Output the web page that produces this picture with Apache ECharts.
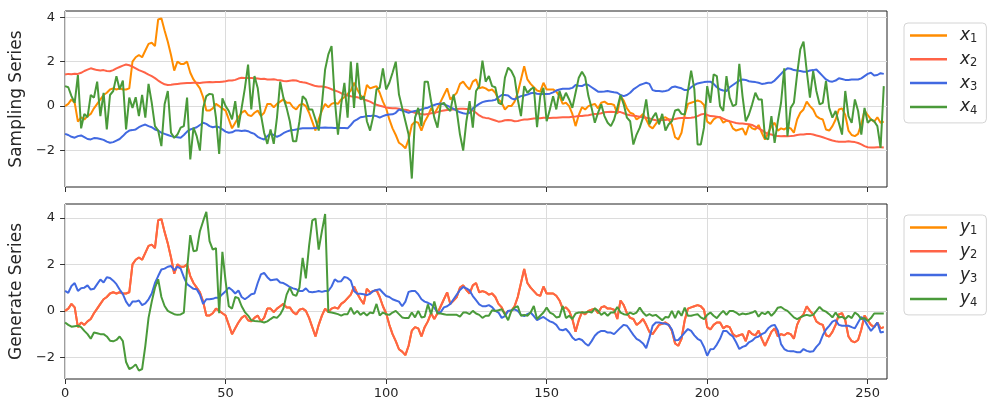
<!DOCTYPE html>
<html>
<head>
<meta charset="utf-8">
<title>Sampling / Generate Series</title>
<script src="https://cdn.jsdelivr.net/npm/echarts@6/dist/echarts.min.js"></script>
<style>
  html, body { margin: 0; padding: 0; background: #fff; }
  #chart { width: 997px; height: 414px; }
</style>
</head>
<body>
<div id="chart"></div>
<script>
// tick positions
const xTicks = [0, 50, 100, 150, 200, 250]
const yTicks = [-2, 0, 2, 4]

// top panel: sampling series x1..x4 (index 0..255)
const sampled1 = [
  0.0, 0.1, 0.3, 0.15, -0.7, -0.5, -0.6, -0.45, -0.35, -0.1,
  0.1, 0.3, 0.5, 0.6, 0.75, 0.8, 0.75, 0.8, 0.75, 0.75,
  0.8, 2.0, 2.2, 2.3, 2.2, 2.5, 2.8, 2.85, 2.7, 3.9,
  3.95, 3.4, 2.9, 2.3, 1.6, 2.0, 1.9, 1.9, 2.0, 1.5,
  1.2, 1.0, 0.8, 0.4, -0.2, -0.2, -0.1, 0.1, 0.0, -0.1,
  -0.2, -0.6, -1.0, -0.75, -0.5, -0.3, -0.2, -0.4, -0.45, -0.3,
  -0.2, -0.45, -0.3, 0.1, 0.1, -0.05, 0.1, 0.2, 0.3, 0.15,
  0.15, -0.05, -0.15, 0.05, 0.1, 0.0, -0.3, -0.7, -1.1, -0.6,
  -0.2, 0.1, -0.05, 0.1, 0.15, 0.1, 0.3, 0.4, 0.55, 0.7,
  1.05, 0.75, 0.5, 0.3, 0.95, 0.8, 0.85, 0.9, 0.6, 0.2,
  -0.1, -0.6, -1.0, -1.3, -1.65, -1.75, -1.9, -1.5, -0.85, -0.7,
  -0.75, -1.1, -0.7, -0.45, -0.1, -0.35, -0.1, 0.2, 0.5, 0.8,
  0.3, 0.45, 0.6, 1.0, 1.1, 0.9, 0.75, 1.1, 1.2, 0.8,
  0.85, 0.8, 0.7, 0.75, 0.6, 0.3, 0.15, -0.15, 0.0, 0.0,
  0.2, 0.6, 1.2, 1.8, 1.2, 1.0, 0.85, 0.7, 0.65, 1.05,
  0.75, 0.75, 0.75, 0.65, 0.45, 0.1, 0.15, 0.0, -0.35, -0.9,
  -0.4, -0.05, -0.15, 0.0, 0.05, 0.1, -0.1, 0.15, 0.2, 0.1,
  0.1, 0.05, -0.35, 0.45, 0.25, -0.1, -0.3, -0.35, -0.6, -0.5,
  -0.35, -0.6, -0.9, -1.0, -0.8, -0.6, -0.55, -0.5, -0.6, -0.85,
  -1.4, -1.5, -1.2, -0.4, 0.1, 0.15, 0.2, 0.25, 0.2, 0.05,
  -0.7, -0.8, -0.6, -0.5, -0.5, -0.75, -0.65, -0.7, -1.0, -1.1,
  -1.05, -1.0, -1.3, -0.85, -1.0, -1.05, -0.85, -1.2, -1.5, -1.2,
  -0.9, -0.75, -1.1, -1.0, -1.05, -0.95, -1.0, -1.2, -0.6, -0.3,
  -0.15, 0.2, 0.0, -0.15, -0.45, -0.55, -0.6, -1.05, -1.1, -0.9,
  -0.6, -0.15, -0.1, -0.4, -1.1, -1.3, -1.35, -1.25, -0.8, -0.2,
  -0.4, -0.6, -0.7, -0.5, -0.75, -0.7
]
const sampled2 = [
  1.42, 1.45, 1.43, 1.46, 1.45, 1.5, 1.58, 1.64, 1.7, 1.66,
  1.62, 1.6, 1.62, 1.58, 1.57, 1.62, 1.7, 1.76, 1.82, 1.87,
  1.84, 1.78, 1.7, 1.62, 1.56, 1.5, 1.42, 1.35, 1.26, 1.15,
  1.06, 0.98, 0.95, 0.96, 0.98, 1.0, 1.02, 1.03, 1.04, 1.04,
  1.05, 1.05, 1.04, 1.06, 1.07, 1.08, 1.07, 1.08, 1.08, 1.1,
  1.12, 1.15, 1.15, 1.18, 1.24, 1.28, 1.27, 1.26, 1.26, 1.25,
  1.24, 1.22, 1.23, 1.2, 1.2, 1.21, 1.18, 1.16, 1.13, 1.12,
  1.14, 1.16, 1.15, 1.1, 1.07, 1.05, 1.0, 0.95, 0.9, 0.88,
  0.88, 0.86, 0.82, 0.76, 0.7, 0.65, 0.58, 0.52, 0.48, 0.44,
  0.42, 0.4, 0.36, 0.3, 0.25, 0.2, 0.12, 0.06, 0.02, -0.02,
  -0.06, -0.08, -0.1, -0.1, -0.12, -0.15, -0.16, -0.2, -0.26, -0.3,
  -0.33, -0.36, -0.38, -0.36, -0.32, -0.3, -0.27, -0.22, -0.2, -0.18,
  -0.15, -0.15, -0.13, -0.12, -0.12, -0.13, -0.15, -0.2, -0.3, -0.42,
  -0.5, -0.53, -0.55, -0.6, -0.65, -0.7, -0.68, -0.64, -0.62, -0.64,
  -0.68, -0.67, -0.63, -0.6, -0.6, -0.58, -0.56, -0.55, -0.55, -0.52,
  -0.52, -0.53, -0.52, -0.52, -0.51, -0.5, -0.5, -0.5, -0.48, -0.47,
  -0.45, -0.44, -0.42, -0.41, -0.38, -0.36, -0.35, -0.32, -0.28, -0.26,
  -0.25, -0.26, -0.25, -0.27, -0.32, -0.38, -0.41, -0.43, -0.45, -0.48,
  -0.5, -0.52, -0.55, -0.6, -0.64, -0.65, -0.63, -0.62, -0.6, -0.6,
  -0.58, -0.55, -0.53, -0.52, -0.53, -0.52, -0.5, -0.45, -0.38, -0.35,
  -0.4, -0.45, -0.46, -0.48, -0.5, -0.56, -0.63, -0.68, -0.72, -0.76,
  -0.78, -0.78, -0.8, -0.82, -0.85, -0.92, -1.0, -1.08, -1.18, -1.26,
  -1.28, -1.32, -1.35, -1.36, -1.35, -1.36, -1.35, -1.33, -1.3, -1.28,
  -1.28, -1.26, -1.25, -1.28, -1.32, -1.36, -1.4, -1.45, -1.5, -1.55,
  -1.58, -1.6, -1.6, -1.6, -1.58, -1.6, -1.62, -1.66, -1.72, -1.8,
  -1.85, -1.86, -1.86, -1.85, -1.85, -1.86
]
const sampled3 = [
  -1.25, -1.3, -1.38, -1.42, -1.35, -1.32, -1.4, -1.48, -1.5, -1.44,
  -1.45, -1.48, -1.52, -1.6, -1.65, -1.62, -1.55, -1.48, -1.35, -1.2,
  -1.1, -1.08, -1.05, -0.95, -0.88, -0.83, -0.9, -0.95, -1.05, -1.1,
  -1.2, -1.25, -1.3, -1.35, -1.38, -1.4, -1.42, -1.3, -1.15, -1.05,
  -1.0, -0.95, -0.85, -0.75, -0.8, -0.9, -0.95, -0.92, -0.95, -1.05,
  -1.15, -1.2, -1.18, -1.1, -1.1, -1.12, -1.1, -1.13, -1.2, -1.25,
  -1.38, -1.45, -1.5, -1.35, -1.25, -1.3, -1.38, -1.32, -1.22, -1.15,
  -1.1, -1.08, -1.05, -1.02, -1.0, -1.0, -1.0, -1.0, -0.98, -0.97,
  -0.97, -0.96, -0.97, -0.97, -0.98, -0.97, -0.98, -0.99, -1.0, -0.85,
  -0.68, -0.6, -0.5, -0.48, -0.45, -0.45, -0.42, -0.45, -0.52, -0.45,
  -0.4, -0.38, -0.37, -0.3, -0.15, -0.2, -0.25, -0.3, -0.25, -0.22,
  -0.2, -0.15, -0.1, -0.07, 0.0, 0.05, 0.1, 0.12, 0.08, 0.02,
  -0.05, -0.12, -0.2, -0.28, -0.32, -0.35, -0.3, -0.1, 0.0, 0.1,
  0.18, 0.22, 0.24, 0.25, 0.28, 0.4, 0.5, 0.5, 0.48, 0.35,
  0.3, 0.38, 0.45, 0.48, 0.52, 0.58, 0.6, 0.56, 0.55, 0.55,
  0.55, 0.56, 0.62, 0.7, 0.75, 0.78, 0.78, 0.78, 0.82, 0.95,
  0.92, 0.9, 0.98, 0.95, 0.85, 0.75, 0.65, 0.65, 0.66, 0.68,
  0.65, 0.62, 0.6, 0.5, 0.45, 0.5, 0.6, 0.75, 0.85, 0.95,
  1.0, 1.05, 1.0, 0.72, 0.68, 0.68, 0.66, 0.68, 0.72, 0.85,
  0.88, 0.84, 0.8, 0.72, 0.72, 0.85, 0.95, 1.02, 1.05, 1.08,
  1.1, 1.1, 1.0, 0.85, 0.75, 0.7, 0.68, 0.85, 0.95, 1.05,
  1.15, 1.2, 1.18, 1.12, 1.1, 1.08, 1.05, 1.0, 1.02, 1.05,
  1.05, 1.15, 1.3, 1.45, 1.6, 1.7, 1.68, 1.62, 1.6, 1.58,
  1.55, 1.55, 1.6, 1.62, 1.65, 1.5, 1.35, 1.2, 1.12, 1.1,
  1.15, 1.25, 1.22, 1.18, 1.18, 1.2, 1.2, 1.2, 1.25, 1.35,
  1.45, 1.5, 1.38, 1.4, 1.48, 1.45
]
const sampled4 = [
  0.9, 0.85, 0.45, 0.15, 1.4, -1.0, -0.35, -0.5, 0.5, 0.38,
  1.1, -0.45, 0.6, -1.05, 0.5, 0.68, 1.35, 0.75, 1.15, -1.05,
  0.38, -0.08, 0.4, -0.45, 0.5, -0.52, 1.0, 0.15, -0.9, -1.1,
  -1.8, 0.08, 0.68, -1.2, -1.43, -1.28, -0.97, -0.9, 0.38, -2.4,
  -0.97, -1.35, -2.0, -0.08, 0.45, 0.55, 0.52, -0.52, -2.15, 0.35,
  0.0, -0.22, -0.6, 0.22, -0.97, -0.08, 0.8, 1.87, -0.15, 1.35,
  0.82, -0.38, -1.2, -1.7, -1.05, -1.7, -0.52, 1.1, 0.38, -0.08,
  -0.68, -1.58, -1.58, -0.68, 0.45, 0.3, -0.15, -0.15, -0.6, -1.1,
  0.08, 1.65, 2.33, 2.7, 0.3, -1.28, 0.08, 1.05, -0.52, 2.0,
  -0.08, 1.95, 0.3, 0.45, -0.68, -1.1, -0.45, 0.75, 0.82, 1.7,
  0.75, 1.05, 1.5, 2.0, 0.52, -0.08, -0.68, -1.28, -3.26, -0.52,
  -0.08, -0.9, 1.1, 1.1, 0.22, -0.52, -0.97, 0.08, 0.15, -0.08,
  -0.22, 0.53, -0.22, -1.28, -2.0, -0.68, 0.22, -0.97, 0.68, 0.9,
  2.05, 1.1, 1.35, 0.9, 0.85, 0.15, 0.08, 1.28, 1.73, 1.58,
  1.28, 0.3, -0.45, 0.9, 0.6, 0.75, 0.85, -0.95, 0.45, 0.82,
  -0.68, -0.15, 0.45, -0.15, 0.68, 0.25, 0.6, 0.3, -0.08, 0.6,
  1.28, 1.55, 1.3, 0.45, -0.08, -0.75, -0.3, 0.08, -0.45, -0.75,
  -0.9, -0.6, -0.08, 0.5, 0.08, -0.52, -0.68, -1.73, -1.28, -0.97,
  -0.52, 0.3, -0.82, -0.52, -0.3, -0.82, -0.35, -1.1, -0.82, -0.68,
  -0.2, -0.15, -0.35, -0.38, 0.68, 1.6, 0.75, -1.73, -1.73, -0.97,
  0.9, 0.15, 1.43, 1.35, 0.0, -0.22, 1.35, 0.38, 0.0, 0.08,
  1.9, 0.45, -0.68, -0.38, 0.08, 0.6, 0.3, 0.3, -1.43, -1.5,
  -0.45, -1.65, -0.68, 0.15, 1.7, -1.35, -0.08, 0.15, 1.43, 2.55,
  2.9, 1.58, 0.38, 1.58, 0.68, 0.08, 0.15, 1.13, -0.08, -0.52,
  -0.22, -0.75, -1.28, 0.68, -0.45, -0.75, 0.3, -0.22, -1.28, -0.08,
  -0.75, -0.6, -0.68, -0.9, -1.88, 0.9
]

// bottom panel: generated series y1..y4
// y1 and y2 lie exactly on top of each other and follow x1 in the picture
const generated1 = sampled1
const generated2 = sampled1
const generated3 = [
  0.86, 0.78, 1.07, 1.2, 0.86, 0.98, 1.0, 1.1, 0.92, 0.95,
  1.15, 1.35, 1.22, 1.45, 1.42, 1.3, 1.15, 0.92, 0.72, 0.4,
  0.2, 0.4, 0.4, 0.45, 0.25, 0.32, 0.5, 0.75, 1.2, 1.5,
  1.78, 1.82, 1.9, 1.93, 1.75, 1.9, 1.82, 1.45, 1.15, 1.05,
  0.95, 0.93, 0.7, 0.3, 0.5, 0.5, 0.52, 0.57, 0.57, 0.72,
  0.85, 1.0, 0.9, 0.75, 0.88, 0.6, 0.5, 0.6, 0.72, 0.75,
  1.2, 1.57, 1.64, 1.45, 1.32, 1.34, 1.36, 1.22, 1.2, 1.12,
  1.03, 0.97, 0.93, 0.86, 0.86, 0.97, 0.82, 0.8, 0.82, 0.86,
  0.82, 0.86, 0.86, 1.05, 1.36, 1.26, 1.28, 1.46, 1.42, 1.3,
  0.86, 0.74, 0.74, 0.72, 0.68, 0.74, 0.86, 0.9, 0.93, 0.78,
  0.64, 0.6, 0.5, 0.45, 0.4, 0.2, 0.4, 0.82, 0.86, 0.86,
  0.72, 0.5, 0.4, 0.35, 0.28, 0.14, -0.07, -0.05, 0.15, 0.2,
  0.3, 0.5, 0.7, 0.9, 1.03, 0.97, 0.88, 0.64, 0.46, 0.28,
  0.2, 0.2, 0.25, 0.16, 0.0, -0.07, -0.3, -0.22, 0.0, 0.03,
  0.07, 0.0, -0.17, -0.22, -0.14, -0.07, -0.22, -0.4, -0.32, -0.26,
  -0.36, -0.45, -0.5, -0.6, -0.8, -0.83, -0.78, -0.93, -1.14, -1.26,
  -1.2, -1.25, -1.4, -1.5, -1.3, -1.07, -0.93, -0.86, -0.86, -0.93,
  -0.93, -1.0, -0.86, -0.72, -0.6, -0.64, -0.83, -1.03, -1.2, -1.28,
  -1.4, -1.6, -1.15, -0.64, -0.5, -0.5, -0.53, -0.55, -0.6, -0.8,
  -1.26, -1.25, -1.1, -0.93, -0.78, -0.86, -1.05, -1.2, -1.28, -1.55,
  -1.93, -1.65, -1.64, -1.45, -1.2, -0.86, -0.86, -1.0, -1.1, -1.35,
  -1.64, -1.55, -1.5, -1.35, -1.28, -1.15, -1.1, -1.0, -0.93, -0.75,
  -0.64, -0.6, -0.85, -1.43, -1.64, -1.72, -1.74, -1.74, -1.78, -1.78,
  -1.64, -1.72, -1.76, -1.74, -1.55, -1.4, -1.05, -0.8, -0.64, -0.46,
  -0.4, -0.6, -0.64, -0.64, -0.64, -0.7, -0.75, -0.5, -0.26, -0.4,
  -0.64, -0.86, -0.7, -0.5, -0.93, -0.9
]
const generated4 = [
  -0.5, -0.6, -0.68, -0.66, -0.64, -0.7, -0.86, -1.0, -1.2, -0.93,
  -0.96, -1.0, -1.0, -1.1, -1.28, -1.31, -1.25, -1.1, -1.3, -2.2,
  -2.5, -2.43, -2.3, -2.57, -2.5, -1.5, -0.3, 0.4, 1.0, 1.36,
  0.6, 0.21, 0.0, -0.07, -0.14, -0.17, -0.15, -0.07, 1.8, 3.26,
  2.57, 2.6, 3.43, 3.86, 4.26, 3.0, 2.64, 2.7, -0.1, 2.54,
  1.28, 0.2, 0.1, 0.6, 0.55, 0.2, -0.05, -0.2, -0.4, -0.43,
  -0.45, -0.46, -0.5, -0.45, -0.35, -0.26, -0.3, -0.15, 0.1, 0.7,
  1.0, 0.7, 0.65, 1.0, 2.28, 1.4, 2.8, 3.9, 3.97, 2.64,
  3.43, 4.17, -0.05, -0.07, -0.1, -0.14, -0.2, -0.14, -0.14, 0.14,
  -0.14, 0.0, -0.17, -0.07, -0.2, -0.07, -0.1, 0.3, -0.2, -0.07,
  -0.14, -0.17, -0.07, 0.0, -0.14, -0.28, -0.31, -0.31, -0.07, -0.28,
  0.0, -0.28, -0.25, 0.28, -0.14, 0.4, -0.11, -0.11, -0.14, -0.17,
  -0.17, -0.17, -0.17, -0.25, -0.07, -0.07, -0.14, 0.0, -0.11, -0.17,
  -0.3, -0.21, -0.21, 0.03, 0.0, 0.03, 0.07, -0.14, -0.4, 0.0,
  0.14, 0.2, -0.21, -0.17, -0.21, -0.07, 0.21, -0.35, -0.21, -0.07,
  0.14, -0.07, -0.14, -0.28, -0.25, 0.21, -0.31, -0.21, -0.35, -0.11,
  -0.07, -0.07, -0.07, -0.03, -0.07, 0.11, 0.0, -0.17, -0.07, -0.21,
  -0.07, -0.07, 0.17, -0.07, -0.14, -0.17, -0.07, -0.14, -0.07, 0.14,
  -0.07, -0.21, -0.14, -0.21, -0.17, -0.28, -0.4, -0.26, -0.28, 0.0,
  -0.31, 0.0, -0.21, 0.14, -0.21, -0.21, -0.17, -0.14, -0.28, -0.35,
  -0.17, -0.07, -0.21, -0.31, -0.14, 0.0, -0.17, 0.0, 0.0, -0.07,
  -0.17, -0.11, -0.14, -0.11, -0.07, 0.0, -0.25, -0.07, -0.14, -0.03,
  -0.21, -0.07, 0.14, 0.17, 0.07, 0.0, -0.14, -0.28, -0.35, -0.28,
  -0.21, -0.17, -0.21, -0.17, 0.0, 0.17, 0.03, -0.03, -0.14, -0.28,
  -0.07, -0.28, -0.25, -0.35, -0.21, -0.31, -0.07, -0.17, -0.35, -0.31,
  -0.43, -0.31, -0.11, -0.11, -0.11, -0.11
]

const colors = ['#ff8c00', '#ff6347', '#4169e1', '#4a9a3a']
const fontFamily = 'DejaVu Sans'
const textColor = '#262626'

const chart = echarts.init(document.getElementById('chart'), null, { renderer: 'canvas' })

function toPoints(values) {
  return values.map((v, i) => [i, v])
}

function makeXAxis(gridIndex, showLabels) {
  return {
    type: 'value',
    gridIndex,
    min: 0,
    max: 256,
    interval: 50,
    axisLine: { show: false, onZero: false },
    axisTick: { show: true, length: 5, customValues: xTicks, lineStyle: { color: '#333' } },
    axisLabel: { show: showLabels, customValues: xTicks, margin: 8, color: textColor, fontSize: 13, fontFamily },
    splitLine: { show: true, lineStyle: { color: '#dcdcdc', width: 1 } }
  }
}

function makeYAxis(gridIndex, min, max, name) {
  return {
    type: 'value',
    gridIndex,
    min,
    max,
    name,
    nameLocation: 'middle',
    nameGap: 32.5,
    nameRotate: 90,
    nameTextStyle: { color: textColor, fontSize: 17, fontFamily },
    axisLine: { show: false, onZero: false },
    axisTick: { show: true, length: 5, customValues: yTicks, lineStyle: { color: '#333' } },
    axisLabel: {
      customValues: yTicks,
      margin: 10,
      color: textColor,
      fontSize: 13,
      fontFamily,
      formatter: v => String(v).replace('-', '\u2212')
    },
    splitLine: { show: true, lineStyle: { color: '#dcdcdc', width: 1 } }
  }
}

function makeLegend(names, top) {
  return {
    data: names,
    orient: 'vertical',
    left: 904,
    top,
    padding: [4, 9, 6, 6],
    itemGap: 5.3,
    itemWidth: 37,
    itemHeight: 2.5,
    icon: 'rect',
    selectedMode: false,
    backgroundColor: '#fff',
    borderColor: '#d4d4d4',
    borderWidth: 1,
    borderRadius: 4,
    formatter: name => `{v|${name[0]}}{s|${name.slice(1)}}`,
    textStyle: {
      rich: {
        v: { fontSize: 17, fontStyle: 'italic', fontFamily, color: textColor, lineHeight: 20, padding: [0, 0, 0, 8] },
        s: { fontSize: 11.5, fontFamily, color: textColor, lineHeight: 12, verticalAlign: 'bottom' }
      }
    }
  }
}

const panels = [
  { names: ['x1', 'x2', 'x3', 'x4'], values: [sampled1, sampled2, sampled3, sampled4] },
  { names: ['y1', 'y2', 'y3', 'y4'], values: [generated1, generated2, generated3, generated4] }
]

const series = []
panels.forEach((panel, p) => {
  panel.values.forEach((values, k) => {
    series.push({
      name: panel.names[k],
      type: 'line',
      xAxisIndex: p,
      yAxisIndex: p,
      data: toPoints(values),
      showSymbol: false,
      symbol: 'none',
      lineStyle: { width: 2, color: colors[k] },
      itemStyle: { color: colors[k] }
    })
  })
})

chart.setOption({
  animation: false,
  backgroundColor: '#fff',
  grid: [
    { left: 63, top: 11, width: 824, height: 176, show: true, borderColor: '#222', borderWidth: 1 },
    { left: 63, top: 204, width: 824, height: 175, show: true, borderColor: '#222', borderWidth: 1 }
  ],
  xAxis: [makeXAxis(0, false), makeXAxis(1, true)],
  yAxis: [
    makeYAxis(0, -3.64, 4.28, 'Sampling Series'),
    makeYAxis(1, -2.93, 4.6, 'Generate Series')
  ],
  legend: [makeLegend(panels[0].names, 23), makeLegend(panels[1].names, 215)],
  series
})
</script>
</body>
</html>
